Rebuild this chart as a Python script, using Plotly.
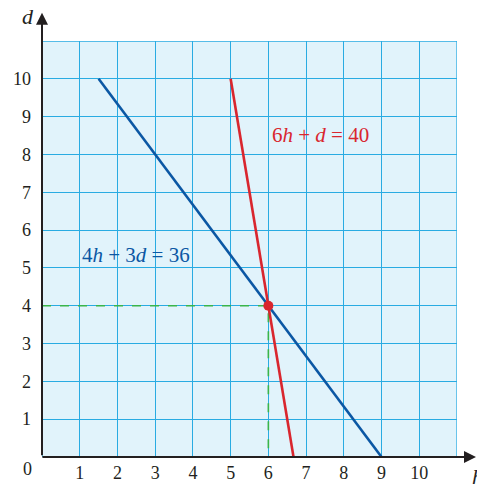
import plotly.graph_objects as go

# graph of two linear equations, intersection at (6, 4)
blue_h = [1.5, 9]
blue_d = [10, 0]
red_h = [5, 20 / 3]
red_d = [10, 0]
guide_h = [0, 6, 6]
guide_d = [4, 4, 0]
point_h = [6]
point_d = [4]

grid_vals = list(range(0, 12))
tick_text = [""] + [str(v) for v in range(1, 11)] + [""]

ink = "#231F20"
grid_col = "#29ABE2"
blue = "#0B57A4"
red = "#D9262E"
green = "#3AB54A"
serif = "Liberation Serif, Tinos, Times New Roman, Times, DejaVu Serif, serif"

fig = go.Figure()

fig.add_trace(go.Scatter(x=guide_h, y=guide_d, mode="lines",
                         line=dict(color=green, width=1.6, dash="dash"),
                         hoverinfo="skip"))
fig.add_trace(go.Scatter(x=blue_h, y=blue_d, mode="lines",
                         line=dict(color=blue, width=2.6)))
fig.add_trace(go.Scatter(x=red_h, y=red_d, mode="lines",
                         line=dict(color=red, width=2.6)))
fig.add_trace(go.Scatter(x=point_h, y=point_d, mode="markers",
                         marker=dict(color=red, size=10), cliponaxis=False))

# equation labels
fig.add_annotation(x=1.0, y=5.34, xanchor="left", showarrow=False,
                   text="4<i>h</i> + 3<i>d</i> = 36",
                   font=dict(family=serif, size=21, color=blue))
fig.add_annotation(x=6.03, y=8.52, xanchor="left", showarrow=False,
                   text="6<i>h</i> + <i>d</i> = 40",
                   font=dict(family=serif, size=21, color=red))

# axes with arrow heads
fig.add_annotation(x=1.048, y=0, xref="paper", yref="y", ax=-436, ay=0,
                   axref="pixel", ayref="pixel", text="", showarrow=True,
                   arrowhead=2, arrowsize=1.2, arrowwidth=2, arrowcolor=ink)
fig.add_annotation(x=0, y=1.068, xref="x", yref="paper", ax=0, ay=444,
                   axref="pixel", ayref="pixel", text="", showarrow=True,
                   arrowhead=2, arrowsize=1.2, arrowwidth=2, arrowcolor=ink)

# axis names and origin
fig.add_annotation(x=1.031, y=-0.048, xref="paper", yref="paper", text="<i>h</i>",
                   showarrow=False, xanchor="left", yanchor="middle",
                   font=dict(family=serif, size=22, color=ink))
fig.add_annotation(x=-0.034, y=1.058, xref="paper", yref="paper", text="<i>d</i>",
                   showarrow=False, xanchor="center", yanchor="middle",
                   font=dict(family=serif, size=22, color=ink))
fig.add_annotation(x=-0.034, y=-0.029, xref="paper", yref="paper", text="0",
                   showarrow=False, xanchor="center", yanchor="middle",
                   font=dict(family=serif, size=18, color=ink))

# outer border of the grid
fig.add_shape(type="rect", x0=0, y0=0, x1=11, y1=11, xref="x", yref="y",
              line=dict(color=grid_col, width=1.3), layer="below")

axis_common = dict(range=[0, 11], tickvals=grid_vals, ticktext=tick_text,
                   showgrid=True, gridcolor=grid_col, gridwidth=1.3,
                   zeroline=False, showline=False, ticks="",
                   tickfont=dict(family=serif, size=18, color=ink),
                   automargin=False, fixedrange=True)

fig.update_layout(
    width=477, height=484,
    margin=dict(l=42, r=20, t=41, b=27),
    font=dict(family=serif),
    paper_bgcolor="white",
    plot_bgcolor="#E1F3FB",
    showlegend=False,
    xaxis=dict(**axis_common, ticklabelstandoff=3),
    yaxis=dict(**axis_common, ticklabelstandoff=10),
)

fig.write_html("out.html", config={"displayModeBar": False},
               post_script="document.body.style.margin='0';")
